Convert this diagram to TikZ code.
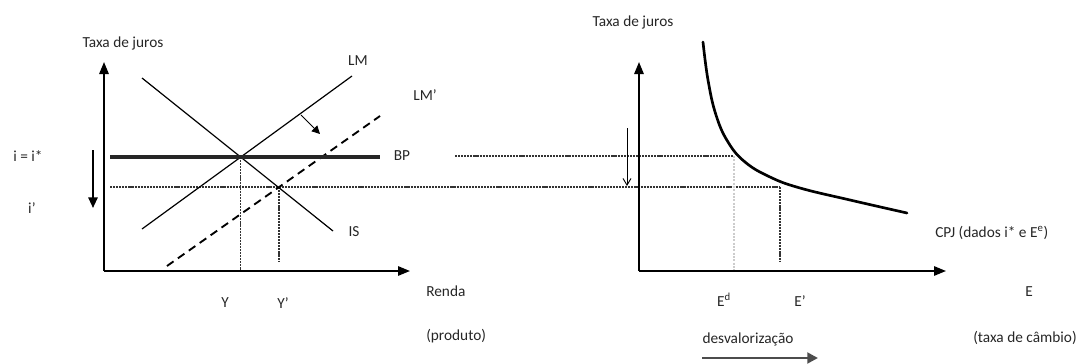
\documentclass[tikz,border=0pt]{standalone}
\usepackage{fontspec}
\setmainfont{Carlito}
\usetikzlibrary{arrows.meta}
\begin{document}
\begin{tikzpicture}[x=0.75pt,y=-0.75pt,
  lbl/.style={font=\fontsize{11.5}{13}\selectfont, inner sep=0pt, text=black!85},
  axis/.style={line width=1.4pt,-{Triangle[length=9pt,width=7pt]}},
  thinline/.style={line width=0.9pt},
  bpline/.style={line width=2.4pt, black!85},
  dashline/.style={line width=1.4pt, dash pattern=on 6pt off 4pt},
  dotline/.style={line width=1.3pt, black!80, dash pattern=on 1.6pt off 0.7pt},
  faintdot/.style={line width=0.8pt, black!20, dash pattern=on 1.5pt off 1pt},
  cpjline/.style={line width=2pt, line cap=round, line join=round},
  downarrow/.style={line width=1.4pt,-{Triangle[length=8pt,width=7pt]}},
  thinarrow/.style={line width=0.7pt,-{Straight Barb[length=5pt,width=6pt]}},
  smallarrow/.style={line width=0.7pt,-{Triangle[length=6pt,width=6pt]}},
  devarrow/.style={line width=2.2pt, black!70,-{Triangle[length=8pt,width=8pt]}}]
\useasboundingbox (0,0) rectangle (1079,364);

% ---------- left panel coordinates ----------
\coordinate (O1) at (104,271);
\coordinate (Y1) at (104,62);
\coordinate (X1) at (410,271);
\coordinate (LMa) at (142,229);
\coordinate (LMb) at (352,76);
\coordinate (ISa) at (142,78);
\coordinate (ISb) at (333,231);
\coordinate (LMpa) at (167,266);
\coordinate (LMpb) at (380,116);
\coordinate (BPa) at (110,157);
\coordinate (BPb) at (380,157);
\coordinate (E0) at (240.6,157);
\coordinate (E1) at (279,187);
\coordinate (E0b) at (240.6,271);
\coordinate (E1b) at (279,262);
\coordinate (ArA) at (301,115);
\coordinate (ArB) at (320,134);
\coordinate (DnA) at (93,150);
\coordinate (DnB) at (93,208);

% ---------- right panel coordinates ----------
\coordinate (O2) at (639,271);
\coordinate (Y2) at (639,62);
\coordinate (X2) at (946,271);
\coordinate (Up0) at (455,156);
\coordinate (Cu) at (734,156);
\coordinate (Cub) at (734,271);
\coordinate (Lo0) at (110,187);
\coordinate (Cl) at (780,187);
\coordinate (Clb) at (780,262);
\coordinate (RdA) at (627,128);
\coordinate (RdB) at (627,186);
\coordinate (DvA) at (702,358);
\coordinate (DvB) at (818,358);

% ---------- dotted guide lines ----------
\draw[dotline] (Lo0) -- (Cl);
\draw[dotline] (Up0) -- (Cu);
\draw[dotline] (E0) -- (E0b);
\draw[dotline] (E1) -- (E1b);
\draw[dotline] (Cl) -- (Clb);
\draw[faintdot] (Cu) -- (Cub);

% ---------- left panel ----------
\draw[axis] (O1) -- (Y1);
\draw[axis] (O1) -- (X1);
\draw[thinline] (LMa) -- (LMb);
\draw[thinline] (ISa) -- (ISb);
\draw[dashline] (LMpa) -- (LMpb);
\draw[bpline] (BPa) -- (BPb);
\draw[smallarrow] (ArA) -- (ArB);
\draw[downarrow] (DnA) -- (DnB);

\node[lbl] (tj1) at (123,43) {Taxa de juros};
\node[lbl] (lm) at (358,61) {LM};
\node[lbl] (lmp) at (425,95) {LM'};
\node[lbl] (bp) at (402,156) {BP};
\node[lbl] (is) at (354,232) {IS};
\node[lbl] (ieq) at (28,156) {i = i*};
\node[lbl] (ip) at (32,208) {i'};
\node[lbl] (y) at (225,303) {Y};
\node[lbl] (yp) at (283,303) {Y'};
\node[lbl, anchor=west] (renda) at (426,291) {Renda};
\node[lbl, anchor=west] (prod) at (426,336) {(produto)};

% ---------- right panel ----------
\draw[axis] (O2) -- (Y2);
\draw[axis] (O2) -- (X2);
\draw[cpjline] plot[smooth, tension=0.7] coordinates {(703,42) (708,80) (716,115) (728,142) (745,162) (770,177) (800,188) (850,200) (907,213)};
\draw[thinarrow] (RdA) -- (RdB);
\draw[devarrow] (DvA) -- (DvB);

\node[lbl] (tj2) at (633,22) {Taxa de juros};
\node[lbl, anchor=west] (cpj) at (935,233) {CPJ (dados i* e E\textsuperscript{e})};
\node[lbl] (ed) at (724,300) {E\textsuperscript{d}};
\node[lbl] (ep) at (800,301) {E'};
\node[lbl] (desv) at (748,339) {desvalorização};
\node[lbl] (e) at (1029,292) {E};
\node[lbl] (taxa) at (1025,338) {(taxa de câmbio)};
\end{tikzpicture}
\end{document}
